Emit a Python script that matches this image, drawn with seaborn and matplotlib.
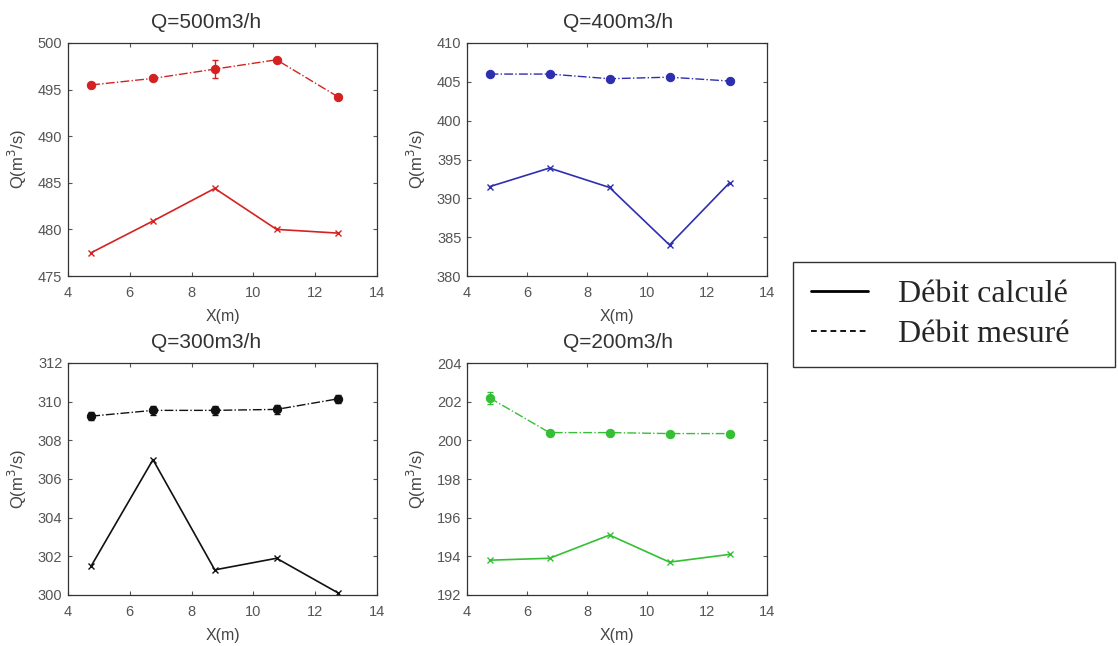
import matplotlib
matplotlib.use("Agg")
import matplotlib.pyplot as plt
import seaborn as sns
import pandas as pd
from matplotlib.lines import Line2D

sns.set_theme(style="ticks")
plt.rcParams["font.family"] = ["Liberation Sans", "DejaVu Sans"]
plt.rcParams["xtick.direction"] = "in"
plt.rcParams["ytick.direction"] = "in"
plt.rcParams["xtick.top"] = True
plt.rcParams["ytick.right"] = True

# positions de mesure
x_pos = [4.75, 6.75, 8.75, 10.75, 12.75]

# Q = 500 m3/h
mes_500 = [495.5, 496.2, 497.2, 498.2, 494.2]
err_500 = [0.2, 0.2, 1.0, 0.2, 0.2]
calc_500 = [477.5, 480.9, 484.4, 480.0, 479.6]

# Q = 400 m3/h
mes_400 = [406.0, 406.0, 405.4, 405.6, 405.1]
err_400 = [0.2, 0.2, 0.2, 0.2, 0.2]
calc_400 = [391.5, 393.9, 391.4, 384.0, 392.0]

# Q = 300 m3/h
mes_300 = [309.25, 309.55, 309.55, 309.6, 310.15]
err_300 = [0.2, 0.25, 0.25, 0.25, 0.2]
calc_300 = [301.5, 307.0, 301.3, 301.9, 300.1]

# Q = 200 m3/h
mes_200 = [202.2, 200.4, 200.4, 200.35, 200.35]
err_200 = [0.3, 0.1, 0.1, 0.1, 0.1]
calc_200 = [193.8, 193.9, 195.1, 193.7, 194.1]

panneaux = [
    ("Q=500m3/h", mes_500, err_500, calc_500, "#d42222", (475, 500), 5),
    ("Q=400m3/h", mes_400, err_400, calc_400, "#2e2eb0", (380, 410), 5),
    ("Q=300m3/h", mes_300, err_300, calc_300, "#111111", (300, 312), 2),
    ("Q=200m3/h", mes_200, err_200, calc_200, "#34c034", (192, 204), 2),
]

fig = plt.figure(figsize=(11.18, 6.46), dpi=100)
W, H = 1118, 646
boites = [(68, 43, 377, 276), (467, 43, 767, 276),
          (68, 363, 377, 595), (467, 363, 767, 595)]
# le titre des panneaux de gauche est un peu décalé
pos_titre = [0.447, 0.505, 0.447, 0.505]

for (titre, mes, err, calc, couleur, ylim, pas), (x0, y0, x1, y1), xt in zip(panneaux, boites, pos_titre):
    ax = fig.add_axes([x0 / W, 1 - y1 / H, (x1 - x0) / W, (y1 - y0) / H])
    df = pd.DataFrame({"x": x_pos, "mes": mes, "calc": calc})
    sns.lineplot(data=df, x="x", y="calc", ax=ax, color=couleur, linewidth=1.2,
                 marker="x", markersize=5, markeredgecolor=couleur, markeredgewidth=1)
    sns.lineplot(data=df, x="x", y="mes", ax=ax, color=couleur, linewidth=1.0,
                 linestyle="-.", marker="o", markersize=6, markeredgecolor=couleur)
    ax.errorbar(x_pos, mes, yerr=err, fmt="none", ecolor=couleur, elinewidth=1, capsize=2)
    ax.set_xlim(4, 14)
    ax.set_ylim(*ylim)
    ax.set_xticks(range(4, 15, 2))
    ax.set_yticks(range(ylim[0], ylim[1] + 1, pas))
    ax.set_title(titre, fontsize=15, pad=11, color="#333333", x=xt)
    ax.set_xlabel("X(m)", fontsize=11.5, color="#444444", labelpad=7)
    ax.set_ylabel("Q(m$^3$/s)", fontsize=12, color="#444444", labelpad=6)
    ax.tick_params(labelsize=10.5, colors="#555555", length=3, width=0.8)
    ax.tick_params(axis="x", pad=7)
    ax.tick_params(axis="y", pad=4)
    for s in ax.spines.values():
        s.set_color("#333333")
        s.set_linewidth(0.9)

poignees = [Line2D([], [], color="black", linewidth=2.0, linestyle="-"),
            Line2D([], [], color="black", linewidth=1.3, linestyle=(0, (3.2, 2.2)))]
leg = fig.legend(poignees, ["Débit calculé", "Débit mesuré"],
                 loc="upper left", bbox_to_anchor=(793 / W, 1 - 262 / H, 322 / W, 0),
                 mode="expand",
                 prop={"family": "Liberation Serif", "size": 23},
                 frameon=True, fancybox=False, edgecolor="black",
                 handlelength=1.8, handletextpad=0.95, borderpad=0.55,
                 labelspacing=0.35, borderaxespad=0)
leg.get_frame().set_linewidth(1.0)

fig.savefig("out.png", dpi=100)
